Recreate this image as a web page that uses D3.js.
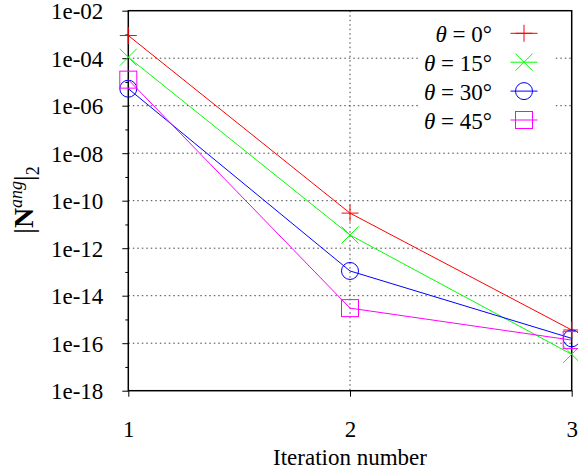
<!DOCTYPE html>
<html><head><meta charset="utf-8">
<script src="https://cdn.jsdelivr.net/npm/d3@7"></script>
<style>body{margin:0;background:#fff}svg{display:block}svg text{font-family:'Liberation Serif','Times New Roman',Times,'Nimbus Roman','DejaVu Serif',serif !important}</style>
</head><body><svg id="c" width="578" height="473"></svg>
<script>
const iterations = [1, 2, 3];
const seriesNames = ["0", "15", "30", "45"];
const seriesColors = ["#ff0000", "#00ff00", "#0000ff", "#ff00ff"];
const seriesMarkers = ["plus", "cross", "circle", "square"];
const theta0 = [9e-4, 3e-11, 3.6e-16];
const theta15 = [1.1e-4, 3.6e-12, 3.4e-17];
const theta30 = [5.2e-6, 1.1e-13, 1.6e-16];
const theta45 = [1.25e-5, 3e-15, 1.35e-16];
const seriesValues = [theta0, theta15, theta30, theta45];
const yMajorTicks = [1e-2, 1e-4, 1e-6, 1e-8, 1e-10, 1e-12, 1e-14, 1e-16, 1e-18];
const yMinorTicks = [1e-3, 1e-5, 1e-7, 1e-9, 1e-11, 1e-13, 1e-15, 1e-17];
const xTicks = [1, 2, 3];

const svg = d3.select("#c");
const L = 128.3, R = 571.7, T = 10.7, B = 390.7;
const x = d3.scaleLinear().domain([1, 3]).range([L, R]);
const y = d3.scaleLog().domain([1e-18, 1e-2]).range([B, T]);
const fmt = d => "1e-" + String(Math.round(-Math.log10(d))).padStart(2, "0");
const FS = 23;

// grid
const grid = svg.append("g").attr("stroke", "#444").attr("stroke-width", 1).attr("stroke-dasharray", "1.5,3");
grid.selectAll("line.h").data(yMajorTicks.slice(1, -1)).join("line")
  .attr("x1", L).attr("x2", R).attr("y1", d => y(d)).attr("y2", d => y(d));
grid.selectAll("line.v").data([2]).join("line")
  .attr("x1", d => x(d)).attr("x2", d => x(d)).attr("y1", T).attr("y2", B);

// axes
const yAxis = d3.axisLeft(y).tickValues(yMajorTicks).tickFormat(fmt).tickSize(6).tickPadding(19);
const gy = svg.append("g").attr("transform", `translate(${L},0)`).call(yAxis);
const yMinor = d3.axisLeft(y).tickValues(yMinorTicks).tickFormat("").tickSize(3);
svg.append("g").attr("transform", `translate(${L},0)`).call(yMinor).select(".domain").remove();
const xAxis = d3.axisBottom(x).tickValues(xTicks).tickFormat(d3.format("d")).tickSize(6).tickPadding(24);
const gx = svg.append("g").attr("transform", `translate(0,${B})`).call(xAxis);
[gy, gx].forEach(g => {
  g.attr("font-family", null);
  g.select(".domain").remove();
  g.selectAll("text").attr("font-size", FS).attr("fill", "#000");
  g.selectAll("line").attr("stroke", "#000");
});
gy.selectAll("text").attr("dy", "0.36em");
gx.selectAll("text").attr("dy", "0.71em");

// frame
svg.append("rect").attr("x", L).attr("y", T).attr("width", R - L).attr("height", B - T)
  .attr("fill", "none").attr("stroke", "#000").attr("stroke-width", 1.5);

// markers
const MS = 8.5;
function marker(g, type, cx, cy, color) {
  const s = MS;
  if (type === "plus") {
    g.append("path").attr("d", `M${cx - s},${cy}H${cx + s}M${cx},${cy - s}V${cy + s}`).attr("stroke", color).attr("fill", "none");
  } else if (type === "cross") {
    g.append("path").attr("d", `M${cx - s},${cy - s}L${cx + s},${cy + s}M${cx - s},${cy + s}L${cx + s},${cy - s}`).attr("stroke", color).attr("fill", "none");
  } else if (type === "circle") {
    g.append("circle").attr("cx", cx).attr("cy", cy).attr("r", s).attr("stroke", color).attr("fill", "none");
  } else {
    g.append("rect").attr("x", cx - s).attr("y", cy - s).attr("width", 2 * s).attr("height", 2 * s).attr("stroke", color).attr("fill", "none");
  }
}

const line = d3.line().x((d, i) => x(iterations[i])).y(d => y(d));
const dataG = svg.append("g");
seriesValues.forEach((vals, k) => {
  dataG.append("path").attr("d", line(vals)).attr("fill", "none").attr("stroke", seriesColors[k]).attr("stroke-width", 1);
  vals.forEach((v, i) => marker(dataG, seriesMarkers[k], x(iterations[i]), y(v), seriesColors[k]));
});

// legend
const leg = svg.append("g");
leg.append("rect").attr("x", 420).attr("y", 18).attr("width", 135).attr("height", 117).attr("fill", "#fff");
const rowY = [33.3, 62.2, 91.1, 120];
seriesNames.forEach((n, k) => {
  const cy = rowY[k];
  const t = leg.append("text").attr("x", 492).attr("y", cy + 8.5).attr("text-anchor", "end").attr("font-size", FS);
  t.append("tspan").attr("font-style", "italic").text("θ");
  t.append("tspan").text(" = " + n + "°");
  leg.append("line").attr("x1", 510.5).attr("x2", 537.5).attr("y1", cy).attr("y2", cy).attr("stroke", seriesColors[k]);
  marker(leg, seriesMarkers[k], 524, cy, seriesColors[k]);
});

// axis labels
svg.append("text").attr("x", x(2)).attr("y", 465).attr("text-anchor", "middle").attr("font-size", FS).text("Iteration number");
const yl = svg.append("text").attr("transform", "translate(33,200) rotate(-90)").attr("text-anchor", "middle").attr("font-size", 28);
yl.append("tspan").text("|");
yl.append("tspan").attr("font-weight", "bold").text("N");
yl.append("tspan").attr("font-style", "italic").attr("font-size", 18).attr("dy", -11).text("ang");
yl.append("tspan").attr("dy", 11).text("|");
yl.append("tspan").attr("font-size", 18).attr("dy", 6).text("2");
</script></body></html>
